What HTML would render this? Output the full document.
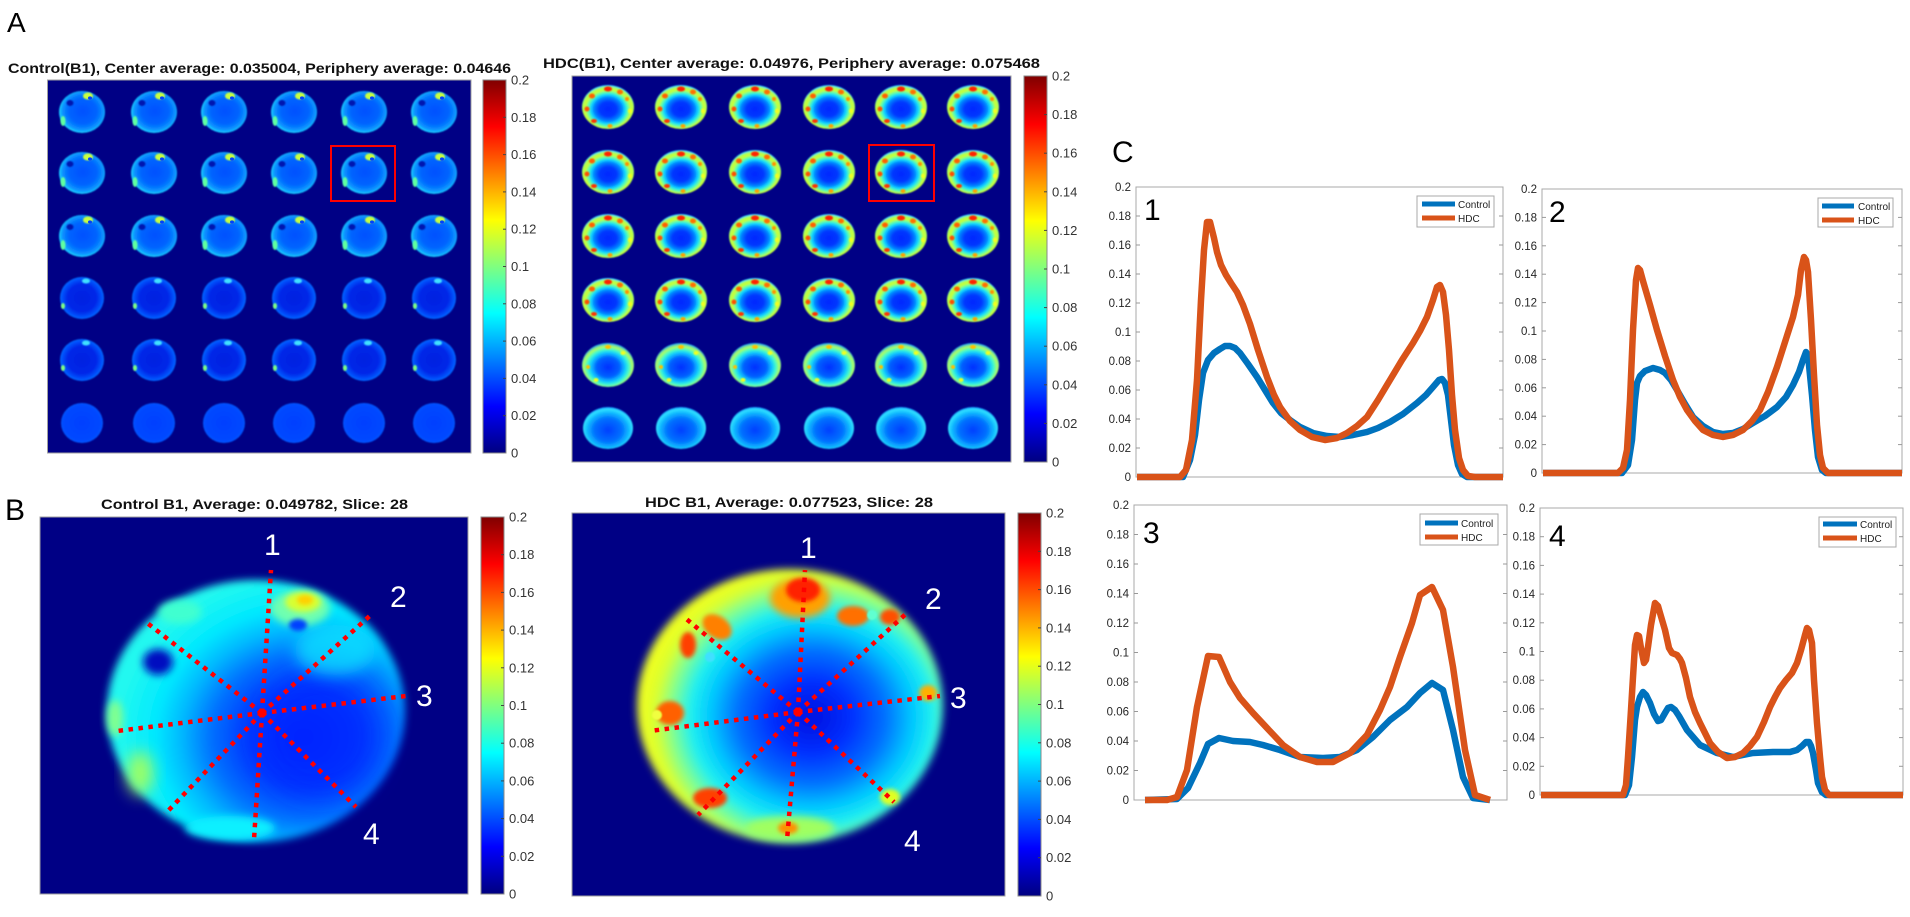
<!DOCTYPE html>
<html><head><meta charset="utf-8"><style>
html,body{margin:0;padding:0;background:#fff;}
svg{display:block;}
text{font-family:"Liberation Sans",Arial,sans-serif;}
</style></head><body>
<svg width="1910" height="917" viewBox="0 0 1910 917" xmlns="http://www.w3.org/2000/svg">
<defs>
<filter id="b1" x="-50%" y="-50%" width="200%" height="200%"><feGaussianBlur stdDeviation="0.8"/></filter>
<filter id="b2" x="-50%" y="-50%" width="200%" height="200%"><feGaussianBlur stdDeviation="2"/></filter>
<filter id="b3" x="-50%" y="-50%" width="200%" height="200%"><feGaussianBlur stdDeviation="3"/></filter>
<filter id="b4" x="-50%" y="-50%" width="200%" height="200%"><feGaussianBlur stdDeviation="4"/></filter>
<filter id="b8" x="-50%" y="-50%" width="200%" height="200%"><feGaussianBlur stdDeviation="8"/></filter>
<filter id="b15" x="-50%" y="-50%" width="200%" height="200%"><feGaussianBlur stdDeviation="15"/></filter>
<linearGradient id="jet" x1="0" y1="1" x2="0" y2="0">
<stop offset="0" stop-color="#000080"/><stop offset="0.125" stop-color="#0000ff"/><stop offset="0.375" stop-color="#00ffff"/><stop offset="0.625" stop-color="#ffff00"/><stop offset="0.875" stop-color="#ff0000"/><stop offset="1" stop-color="#800000"/>
</linearGradient>
<radialGradient id="gCtl" cx="0.52" cy="0.48" r="0.55">
<stop offset="0" stop-color="#0050ff"/><stop offset="0.55" stop-color="#0064ff"/><stop offset="0.8" stop-color="#0a90ff"/><stop offset="0.93" stop-color="#18ccff"/><stop offset="1" stop-color="#1090ff"/>
</radialGradient>
<radialGradient id="gCtl2" cx="0.5" cy="0.5" r="0.55">
<stop offset="0" stop-color="#0020e0"/><stop offset="0.6" stop-color="#0028e8"/><stop offset="0.85" stop-color="#0058ff"/><stop offset="1" stop-color="#1090ff"/>
</radialGradient>
<radialGradient id="gCtl3" cx="0.5" cy="0.5" r="0.55">
<stop offset="0" stop-color="#0040ff"/><stop offset="0.8" stop-color="#0048ff"/><stop offset="1" stop-color="#1068ff"/>
</radialGradient>
<radialGradient id="gH1" cx="0.5" cy="0.55" r="0.55">
<stop offset="0" stop-color="#0028ff"/><stop offset="0.3" stop-color="#0038ff"/><stop offset="0.48" stop-color="#0080ff"/><stop offset="0.6" stop-color="#10d8ff"/><stop offset="0.7" stop-color="#60ffa8"/><stop offset="0.8" stop-color="#c8ff38"/><stop offset="0.9" stop-color="#b0ff50"/><stop offset="0.97" stop-color="#40e0ff"/><stop offset="1" stop-color="#1080ff"/>
</radialGradient>
<radialGradient id="gH2" cx="0.5" cy="0.55" r="0.55">
<stop offset="0" stop-color="#0030ff"/><stop offset="0.4" stop-color="#0060ff"/><stop offset="0.6" stop-color="#10c8ff"/><stop offset="0.72" stop-color="#40f8d0"/><stop offset="0.86" stop-color="#b0ff60"/><stop offset="1" stop-color="#10a0ff"/>
</radialGradient>
<radialGradient id="gH3" cx="0.5" cy="0.55" r="0.55">
<stop offset="0" stop-color="#0040ff"/><stop offset="0.5" stop-color="#0070ff"/><stop offset="0.75" stop-color="#10b8ff"/><stop offset="0.9" stop-color="#30e0ff"/><stop offset="1" stop-color="#1090ff"/>
</radialGradient>
<radialGradient id="gBL" cx="0.66" cy="0.6" r="0.62">
<stop offset="0" stop-color="#0020ff"/><stop offset="0.3" stop-color="#0038ff"/><stop offset="0.5" stop-color="#0070ff"/><stop offset="0.66" stop-color="#00b8ff"/><stop offset="0.8" stop-color="#00e8ff"/><stop offset="1" stop-color="#20f8f0"/>
</radialGradient>
<radialGradient id="gBR" cx="0.57" cy="0.54" r="0.6">
<stop offset="0" stop-color="#0010e0"/><stop offset="0.22" stop-color="#0030ff"/><stop offset="0.4" stop-color="#0070ff"/><stop offset="0.55" stop-color="#00c8ff"/><stop offset="0.66" stop-color="#20f0f0"/><stop offset="0.76" stop-color="#80ff90"/><stop offset="0.85" stop-color="#d8ff30"/><stop offset="0.93" stop-color="#f0ff20"/><stop offset="1" stop-color="#e0ff30"/>
</radialGradient>
<g id="c1">
<ellipse rx="23" ry="21" fill="url(#gCtl)" filter="url(#b1)"/>
<ellipse cx="6" cy="-16" rx="5" ry="3.5" fill="#c8ff40" filter="url(#b1)"/>
<ellipse cx="8" cy="-14" rx="2" ry="1.6" fill="#0040ff"/>
<ellipse cx="-12" cy="-9" rx="3.5" ry="3" fill="#0018b0" filter="url(#b1)"/>
<ellipse cx="-19" cy="9" rx="2.5" ry="5" fill="#60ffa0" filter="url(#b1)"/>
</g>
<g id="c2">
<ellipse rx="22" ry="21" fill="url(#gCtl2)" filter="url(#b1)"/>
<ellipse cx="4" cy="-17" rx="4" ry="2.5" fill="#40e0ff" filter="url(#b1)"/>
<ellipse cx="-19" cy="8" rx="2" ry="3" fill="#80ff80" filter="url(#b1)"/>
</g>
<g id="c3">
<ellipse rx="21" ry="20" fill="url(#gCtl3)" filter="url(#b1)"/>
</g>
<g id="h1">
<ellipse rx="26" ry="22" fill="url(#gH1)" filter="url(#b1)"/>
<ellipse cx="0" cy="-18" rx="4" ry="2.5" fill="#ff2000" filter="url(#b1)"/>
<ellipse cx="12" cy="-15" rx="3" ry="2.5" fill="#ff7000" filter="url(#b1)"/>
<ellipse cx="19" cy="-8" rx="2" ry="2" fill="#ff9000" filter="url(#b1)"/>
<ellipse cx="-16" cy="-11" rx="3" ry="2.5" fill="#ff6000" filter="url(#b1)"/>
<ellipse cx="-21" cy="2" rx="2.5" ry="2.5" fill="#ff5000" filter="url(#b1)"/>
<ellipse cx="-14" cy="14" rx="3" ry="2" fill="#ff3000" filter="url(#b1)"/>
<ellipse cx="2" cy="19" rx="2.5" ry="2" fill="#ffa000" filter="url(#b1)"/>
<ellipse cx="22" cy="4" rx="2" ry="2.5" fill="#f0ff20" filter="url(#b1)"/>
</g>
<g id="h2">
<ellipse rx="26" ry="22" fill="url(#gH2)" filter="url(#b1)"/>
<ellipse cx="0" cy="-18" rx="3" ry="2" fill="#ffc000" filter="url(#b1)"/>
<ellipse cx="-20" cy="2" rx="2" ry="2" fill="#ffc000" filter="url(#b1)"/>
<ellipse cx="15" cy="-12" rx="2.5" ry="2" fill="#f0ff20" filter="url(#b1)"/>
<ellipse cx="-12" cy="15" rx="2.5" ry="2" fill="#f0ff20" filter="url(#b1)"/>
</g>
<g id="h3">
<ellipse rx="25" ry="21" fill="url(#gH3)" filter="url(#b1)"/>
</g>
</defs>
<rect width="1910" height="917" fill="#fff"/>

<!-- Panel labels -->
<text x="7" y="32" font-size="28" fill="#000">A</text>
<text x="5" y="520" font-size="30" fill="#000">B</text>
<text x="1112" y="162" font-size="30" fill="#000">C</text>

<!-- A left -->
<text x="8" y="73" font-size="14" font-weight="bold" fill="#111" textLength="503" lengthAdjust="spacingAndGlyphs">Control(B1), Center average: 0.035004, Periphery average: 0.04646</text>
<rect x="47.5" y="80" width="423.5" height="373" fill="#000085" stroke="#a0a0a0" stroke-width="1"/>
<g>
<use href="#c1" x="82" y="112"/><use href="#c1" x="154" y="112"/><use href="#c1" x="224" y="112"/><use href="#c1" x="294" y="112"/><use href="#c1" x="364" y="112"/><use href="#c1" x="434" y="112"/>
<use href="#c1" x="82" y="173"/><use href="#c1" x="154" y="173"/><use href="#c1" x="224" y="173"/><use href="#c1" x="294" y="173"/><use href="#c1" x="364" y="173"/><use href="#c1" x="434" y="173"/>
<use href="#c1" x="82" y="236"/><use href="#c1" x="154" y="236"/><use href="#c1" x="224" y="236"/><use href="#c1" x="294" y="236"/><use href="#c1" x="364" y="236"/><use href="#c1" x="434" y="236"/>
<use href="#c2" x="82" y="298"/><use href="#c2" x="154" y="298"/><use href="#c2" x="224" y="298"/><use href="#c2" x="294" y="298"/><use href="#c2" x="364" y="298"/><use href="#c2" x="434" y="298"/>
<use href="#c2" x="82" y="360"/><use href="#c2" x="154" y="360"/><use href="#c2" x="224" y="360"/><use href="#c2" x="294" y="360"/><use href="#c2" x="364" y="360"/><use href="#c2" x="434" y="360"/>
<use href="#c3" x="82" y="423"/><use href="#c3" x="154" y="423"/><use href="#c3" x="224" y="423"/><use href="#c3" x="294" y="423"/><use href="#c3" x="364" y="423"/><use href="#c3" x="434" y="423"/>
</g>
<rect x="331" y="146" width="64" height="55" fill="none" stroke="#ff0000" stroke-width="2"/>
<rect x="483" y="80" width="23" height="373" fill="url(#jet)" stroke="#888" stroke-width="1"/>
<g stroke="#444" stroke-width="1">
<line x1="503" y1="117.3" x2="506" y2="117.3"/><line x1="503" y1="154.6" x2="506" y2="154.6"/><line x1="503" y1="191.9" x2="506" y2="191.9"/><line x1="503" y1="229.2" x2="506" y2="229.2"/><line x1="503" y1="266.5" x2="506" y2="266.5"/><line x1="503" y1="303.8" x2="506" y2="303.8"/><line x1="503" y1="341.1" x2="506" y2="341.1"/><line x1="503" y1="378.4" x2="506" y2="378.4"/><line x1="503" y1="415.7" x2="506" y2="415.7"/>
</g>
<g font-size="13" fill="#333">
<text x="511" y="84.5">0.2</text><text x="511" y="121.8">0.18</text><text x="511" y="159.1">0.16</text><text x="511" y="196.4">0.14</text><text x="511" y="233.7">0.12</text><text x="511" y="271">0.1</text><text x="511" y="308.3">0.08</text><text x="511" y="345.6">0.06</text><text x="511" y="382.9">0.04</text><text x="511" y="420.2">0.02</text><text x="511" y="457.5">0</text>
</g>

<!-- A right -->
<text x="543" y="68" font-size="14" font-weight="bold" fill="#111" textLength="497" lengthAdjust="spacingAndGlyphs">HDC(B1), Center average: 0.04976, Periphery average: 0.075468</text>
<rect x="572" y="76" width="439" height="386" fill="#000085" stroke="#a0a0a0" stroke-width="1"/>
<g>
<use href="#h1" x="608" y="107"/><use href="#h1" x="681" y="107"/><use href="#h1" x="755" y="107"/><use href="#h1" x="829" y="107"/><use href="#h1" x="901" y="107"/><use href="#h1" x="973" y="107"/>
<use href="#h1" x="608" y="172"/><use href="#h1" x="681" y="172"/><use href="#h1" x="755" y="172"/><use href="#h1" x="829" y="172"/><use href="#h1" x="901" y="172"/><use href="#h1" x="973" y="172"/>
<use href="#h1" x="608" y="236"/><use href="#h1" x="681" y="236"/><use href="#h1" x="755" y="236"/><use href="#h1" x="829" y="236"/><use href="#h1" x="901" y="236"/><use href="#h1" x="973" y="236"/>
<use href="#h1" x="608" y="300"/><use href="#h1" x="681" y="300"/><use href="#h1" x="755" y="300"/><use href="#h1" x="829" y="300"/><use href="#h1" x="901" y="300"/><use href="#h1" x="973" y="300"/>
<use href="#h2" x="608" y="365"/><use href="#h2" x="681" y="365"/><use href="#h2" x="755" y="365"/><use href="#h2" x="829" y="365"/><use href="#h2" x="901" y="365"/><use href="#h2" x="973" y="365"/>
<use href="#h3" x="608" y="428"/><use href="#h3" x="681" y="428"/><use href="#h3" x="755" y="428"/><use href="#h3" x="829" y="428"/><use href="#h3" x="901" y="428"/><use href="#h3" x="973" y="428"/>
</g>
<rect x="869" y="145" width="65" height="56" fill="none" stroke="#ff0000" stroke-width="2"/>
<rect x="1024" y="76" width="23" height="386" fill="url(#jet)" stroke="#888" stroke-width="1"/>
<g stroke="#444" stroke-width="1">
<line x1="1044" y1="114.6" x2="1047" y2="114.6"/><line x1="1044" y1="153.2" x2="1047" y2="153.2"/><line x1="1044" y1="191.8" x2="1047" y2="191.8"/><line x1="1044" y1="230.4" x2="1047" y2="230.4"/><line x1="1044" y1="269" x2="1047" y2="269"/><line x1="1044" y1="307.6" x2="1047" y2="307.6"/><line x1="1044" y1="346.2" x2="1047" y2="346.2"/><line x1="1044" y1="384.8" x2="1047" y2="384.8"/><line x1="1044" y1="423.4" x2="1047" y2="423.4"/>
</g>
<g font-size="13" fill="#333">
<text x="1052" y="80.5">0.2</text><text x="1052" y="119.1">0.18</text><text x="1052" y="157.7">0.16</text><text x="1052" y="196.3">0.14</text><text x="1052" y="234.9">0.12</text><text x="1052" y="273.5">0.1</text><text x="1052" y="312.1">0.08</text><text x="1052" y="350.7">0.06</text><text x="1052" y="389.3">0.04</text><text x="1052" y="427.9">0.02</text><text x="1052" y="466.5">0</text>
</g>

<!-- B left -->
<text x="101" y="509" font-size="14" font-weight="bold" fill="#111" textLength="307" lengthAdjust="spacingAndGlyphs">Control B1, Average: 0.049782, Slice: 28</text>
<rect x="40" y="517" width="428" height="377" fill="#000085" stroke="#a0a0a0" stroke-width="1"/>
<g>
<ellipse cx="256" cy="711" rx="149" ry="131" fill="url(#gBL)" filter="url(#b4)"/>
<ellipse cx="320" cy="735" rx="60" ry="60" fill="#0028ff" opacity="0.55" filter="url(#b15)"/>
<ellipse cx="230" cy="828" rx="45" ry="12" fill="#10f0ff" filter="url(#b4)"/>
<ellipse cx="335" cy="650" rx="40" ry="25" fill="#10e0ff" opacity="0.8" filter="url(#b8)"/>
<ellipse cx="300" cy="608" rx="30" ry="18" fill="#70ffb0" filter="url(#b4)"/>
<ellipse cx="303" cy="602" rx="18" ry="10" fill="#d8ff30" filter="url(#b3)"/>
<ellipse cx="305" cy="600" rx="8" ry="5" fill="#ffd000" filter="url(#b2)"/>
<ellipse cx="298" cy="625" rx="9" ry="6" fill="#0040ff" filter="url(#b2)"/>
<ellipse cx="158" cy="662" rx="15" ry="13" fill="#0010c0" filter="url(#b4)"/>
<ellipse cx="140" cy="773" rx="13" ry="22" fill="#a0ff60" filter="url(#b8)"/>
<ellipse cx="115" cy="718" rx="8" ry="18" fill="#80ff90" filter="url(#b4)"/>
<ellipse cx="180" cy="612" rx="22" ry="12" fill="#40ffd0" filter="url(#b4)"/>
</g>
<g stroke="#ff0000" stroke-width="4.5" stroke-dasharray="4.5 5.5" fill="none">
<line x1="262" y1="713" x2="271" y2="570"/><line x1="262" y1="713" x2="254" y2="840"/>
<line x1="262" y1="713" x2="373" y2="613"/><line x1="262" y1="713" x2="165" y2="814"/>
<line x1="262" y1="713" x2="406" y2="696"/><line x1="262" y1="713" x2="117" y2="731"/>
<line x1="262" y1="713" x2="356" y2="807"/><line x1="262" y1="713" x2="146" y2="622"/>
</g>
<g font-size="30" fill="#fff">
<text x="264" y="555">1</text><text x="390" y="607">2</text><text x="416" y="706">3</text><text x="363" y="844">4</text>
</g>
<rect x="481" y="517" width="23" height="377" fill="url(#jet)" stroke="#888" stroke-width="1"/>
<g stroke="#444" stroke-width="1">
<line x1="501" y1="554.7" x2="504" y2="554.7"/><line x1="501" y1="592.4" x2="504" y2="592.4"/><line x1="501" y1="630.1" x2="504" y2="630.1"/><line x1="501" y1="667.8" x2="504" y2="667.8"/><line x1="501" y1="705.5" x2="504" y2="705.5"/><line x1="501" y1="743.2" x2="504" y2="743.2"/><line x1="501" y1="780.9" x2="504" y2="780.9"/><line x1="501" y1="818.6" x2="504" y2="818.6"/><line x1="501" y1="856.3" x2="504" y2="856.3"/>
</g>
<g font-size="13" fill="#333">
<text x="509" y="521.5">0.2</text><text x="509" y="559.2">0.18</text><text x="509" y="596.9">0.16</text><text x="509" y="634.6">0.14</text><text x="509" y="672.3">0.12</text><text x="509" y="710">0.1</text><text x="509" y="747.7">0.08</text><text x="509" y="785.4">0.06</text><text x="509" y="823.1">0.04</text><text x="509" y="860.8">0.02</text><text x="509" y="898.5">0</text>
</g>

<!-- B right -->
<text x="645" y="507" font-size="14" font-weight="bold" fill="#111" textLength="288" lengthAdjust="spacingAndGlyphs">HDC B1, Average: 0.077523, Slice: 28</text>
<rect x="572" y="513" width="433" height="383" fill="#000085" stroke="#a0a0a0" stroke-width="1"/>
<g>
<ellipse cx="790" cy="706" rx="153" ry="137" fill="url(#gBR)" filter="url(#b4)"/>
<ellipse cx="790" cy="828" rx="45" ry="12" fill="#a0ff60" filter="url(#b4)"/>
<ellipse cx="800" cy="598" rx="30" ry="20" fill="#ffa000" filter="url(#b4)"/>
<ellipse cx="803" cy="590" rx="17" ry="12" fill="#ff2000" filter="url(#b2)"/>
<ellipse cx="853" cy="616" rx="16" ry="10" fill="#ff7000" filter="url(#b2)"/>
<ellipse cx="890" cy="617" rx="10" ry="8" fill="#ff5000" filter="url(#b2)"/>
<ellipse cx="872" cy="615" rx="5" ry="5" fill="#60ffd0" filter="url(#b1)"/>
<ellipse cx="717" cy="627" rx="16" ry="11" fill="#ff8000" filter="url(#b2)" transform="rotate(35 717 627)"/>
<ellipse cx="688" cy="645" rx="8" ry="13" fill="#ff4000" filter="url(#b2)"/>
<ellipse cx="710" cy="657" rx="5" ry="5" fill="#40e0ff" filter="url(#b1)"/>
<ellipse cx="670" cy="713" rx="14" ry="12" fill="#ff6000" filter="url(#b2)"/>
<ellipse cx="657" cy="715" rx="5" ry="5" fill="#f0ff40" filter="url(#b1)"/>
<ellipse cx="710" cy="798" rx="17" ry="10" fill="#ff4000" filter="url(#b2)"/>
<ellipse cx="788" cy="828" rx="10" ry="6" fill="#ff9000" filter="url(#b2)"/>
<ellipse cx="928" cy="693" rx="9" ry="8" fill="#ffb000" filter="url(#b2)"/>
<ellipse cx="890" cy="797" rx="10" ry="8" fill="#e0ff20" filter="url(#b2)"/>
</g>
<g stroke="#ff0000" stroke-width="4.5" stroke-dasharray="4.5 5.5" fill="none">
<line x1="798" y1="712" x2="805" y2="570"/><line x1="798" y1="712" x2="787" y2="840"/>
<line x1="798" y1="712" x2="908" y2="612"/><line x1="798" y1="712" x2="698" y2="815"/>
<line x1="798" y1="712" x2="940" y2="696"/><line x1="798" y1="712" x2="650" y2="731"/>
<line x1="798" y1="712" x2="894" y2="802"/><line x1="798" y1="712" x2="684" y2="617"/>
</g>
<g font-size="30" fill="#fff">
<text x="800" y="558">1</text><text x="925" y="609">2</text><text x="950" y="708">3</text><text x="904" y="851">4</text>
</g>
<rect x="1018" y="513" width="23" height="383" fill="url(#jet)" stroke="#888" stroke-width="1"/>
<g stroke="#444" stroke-width="1">
<line x1="1038" y1="551.3" x2="1041" y2="551.3"/><line x1="1038" y1="589.6" x2="1041" y2="589.6"/><line x1="1038" y1="627.9" x2="1041" y2="627.9"/><line x1="1038" y1="666.2" x2="1041" y2="666.2"/><line x1="1038" y1="704.5" x2="1041" y2="704.5"/><line x1="1038" y1="742.8" x2="1041" y2="742.8"/><line x1="1038" y1="781.1" x2="1041" y2="781.1"/><line x1="1038" y1="819.4" x2="1041" y2="819.4"/><line x1="1038" y1="857.7" x2="1041" y2="857.7"/>
</g>
<g font-size="13" fill="#333">
<text x="1046" y="517.5">0.2</text><text x="1046" y="555.8">0.18</text><text x="1046" y="594.1">0.16</text><text x="1046" y="632.4">0.14</text><text x="1046" y="670.7">0.12</text><text x="1046" y="709">0.1</text><text x="1046" y="747.3">0.08</text><text x="1046" y="785.6">0.06</text><text x="1046" y="823.9">0.04</text><text x="1046" y="862.2">0.02</text><text x="1046" y="900.5">0</text>
</g>

<!-- C1 -->
<rect x="1136" y="187" width="367" height="290" fill="#fff" stroke="#a8a8a8" stroke-width="1"/>
<g stroke="#999" stroke-width="1">
<line x1="1136" y1="448" x2="1140" y2="448"/><line x1="1136" y1="419" x2="1140" y2="419"/><line x1="1136" y1="390" x2="1140" y2="390"/><line x1="1136" y1="361" x2="1140" y2="361"/><line x1="1136" y1="332" x2="1140" y2="332"/><line x1="1136" y1="303" x2="1140" y2="303"/><line x1="1136" y1="274" x2="1140" y2="274"/><line x1="1136" y1="245" x2="1140" y2="245"/><line x1="1136" y1="216" x2="1140" y2="216"/>
<line x1="1499" y1="448" x2="1503" y2="448"/><line x1="1499" y1="419" x2="1503" y2="419"/><line x1="1499" y1="390" x2="1503" y2="390"/><line x1="1499" y1="361" x2="1503" y2="361"/><line x1="1499" y1="332" x2="1503" y2="332"/><line x1="1499" y1="303" x2="1503" y2="303"/><line x1="1499" y1="274" x2="1503" y2="274"/><line x1="1499" y1="245" x2="1503" y2="245"/><line x1="1499" y1="216" x2="1503" y2="216"/>
</g>
<g font-size="11.5" fill="#262626" text-anchor="end">
<text x="1131" y="481">0</text><text x="1131" y="452">0.02</text><text x="1131" y="423">0.04</text><text x="1131" y="394">0.06</text><text x="1131" y="365">0.08</text><text x="1131" y="336">0.1</text><text x="1131" y="307">0.12</text><text x="1131" y="278">0.14</text><text x="1131" y="249">0.16</text><text x="1131" y="220">0.18</text><text x="1131" y="191">0.2</text>
</g>
<polyline fill="none" stroke="#0072BD" stroke-width="6.5" stroke-linejoin="round" points="1137,477 1183,477 1190,460 1195,435 1199,400 1203,373 1208,360 1214,353 1220,349 1225,346 1230,346 1235,348 1240,353 1248,364 1257,377 1265,390 1273,403 1281,413 1290,420 1300,427 1313,433 1327,436 1340,437 1353,435 1367,432 1378,428 1390,422 1403,414 1417,403 1426,395 1433,387 1439,380 1442,379 1445,383 1448,395 1451,420 1454,445 1458,465 1462,474 1467,477 1503,477"/>
<polyline fill="none" stroke="#D95319" stroke-width="6.5" stroke-linejoin="round" points="1137,477 1180,477 1186,470 1192,440 1197,380 1201,300 1204,250 1207,222 1210,222 1214,238 1217,252 1221,265 1226,275 1231,283 1237,292 1243,305 1250,324 1258,350 1267,377 1274,395 1280,407 1290,421 1300,430 1312,437 1325,440 1337,438 1347,433 1357,426 1367,417 1378,400 1390,380 1402,360 1413,343 1420,331 1427,317 1433,300 1437,287 1440,285 1443,292 1446,315 1449,350 1452,395 1455,430 1459,458 1463,470 1468,476 1475,477 1503,477"/>
<text x="1144" y="220" font-size="30" fill="#000">1</text>
<rect x="1417" y="196" width="77" height="31" fill="#fff" stroke="#a8a8a8" stroke-width="1"/>
<line x1="1422" y1="204" x2="1455" y2="204" stroke="#0072BD" stroke-width="5"/>
<line x1="1422" y1="218" x2="1455" y2="218" stroke="#D95319" stroke-width="5"/>
<text x="1458" y="208" font-size="10" fill="#222">Control</text>
<text x="1458" y="222" font-size="10" fill="#222">HDC</text>

<!-- C2 -->
<rect x="1542" y="189" width="360" height="284" fill="#fff" stroke="#a8a8a8" stroke-width="1"/>
<g stroke="#999" stroke-width="1">
<line x1="1542" y1="444.6" x2="1546" y2="444.6"/><line x1="1542" y1="416.2" x2="1546" y2="416.2"/><line x1="1542" y1="387.8" x2="1546" y2="387.8"/><line x1="1542" y1="359.4" x2="1546" y2="359.4"/><line x1="1542" y1="331" x2="1546" y2="331"/><line x1="1542" y1="302.6" x2="1546" y2="302.6"/><line x1="1542" y1="274.2" x2="1546" y2="274.2"/><line x1="1542" y1="245.8" x2="1546" y2="245.8"/><line x1="1542" y1="217.4" x2="1546" y2="217.4"/>
<line x1="1898" y1="444.6" x2="1902" y2="444.6"/><line x1="1898" y1="416.2" x2="1902" y2="416.2"/><line x1="1898" y1="387.8" x2="1902" y2="387.8"/><line x1="1898" y1="359.4" x2="1902" y2="359.4"/><line x1="1898" y1="331" x2="1902" y2="331"/><line x1="1898" y1="302.6" x2="1902" y2="302.6"/><line x1="1898" y1="274.2" x2="1902" y2="274.2"/><line x1="1898" y1="245.8" x2="1902" y2="245.8"/><line x1="1898" y1="217.4" x2="1902" y2="217.4"/>
</g>
<g font-size="11.5" fill="#262626" text-anchor="end">
<text x="1537" y="477">0</text><text x="1537" y="448.6">0.02</text><text x="1537" y="420.2">0.04</text><text x="1537" y="391.8">0.06</text><text x="1537" y="363.4">0.08</text><text x="1537" y="335">0.1</text><text x="1537" y="306.6">0.12</text><text x="1537" y="278.2">0.14</text><text x="1537" y="249.8">0.16</text><text x="1537" y="221.4">0.18</text><text x="1537" y="193">0.2</text>
</g>
<polyline fill="none" stroke="#0072BD" stroke-width="6.5" stroke-linejoin="round" points="1543,473 1622,473 1628,465 1632,440 1635,400 1637,383 1640,376 1645,371 1653,368 1660,370 1665,373 1671,380 1677,390 1685,404 1693,417 1703,426 1713,432 1723,434 1733,433 1743,429 1753,423 1765,416 1777,407 1786,397 1793,385 1799,372 1803,360 1806,352 1808,355 1810,375 1812,395 1815,430 1818,457 1822,470 1826,473 1902,473"/>
<polyline fill="none" stroke="#D95319" stroke-width="6.5" stroke-linejoin="round" points="1543,473 1618,473 1623,468 1627,450 1630,400 1633,330 1636,280 1638,268 1640,270 1643,281 1650,305 1657,330 1665,356 1673,380 1680,397 1687,410 1695,421 1703,430 1713,435 1723,437 1733,435 1743,430 1752,421 1760,410 1768,392 1777,367 1785,342 1793,317 1798,295 1801,270 1804,257 1806,260 1808,272 1811,320 1814,375 1817,425 1820,455 1823,468 1828,473 1902,473"/>
<text x="1549" y="222" font-size="30" fill="#000">2</text>
<rect x="1818" y="198" width="75" height="29" fill="#fff" stroke="#a8a8a8" stroke-width="1"/>
<line x1="1822" y1="206" x2="1854" y2="206" stroke="#0072BD" stroke-width="5"/>
<line x1="1822" y1="220" x2="1854" y2="220" stroke="#D95319" stroke-width="5"/>
<text x="1858" y="210" font-size="10" fill="#222">Control</text>
<text x="1858" y="224" font-size="10" fill="#222">HDC</text>

<!-- C3 -->
<rect x="1134" y="505" width="373" height="295" fill="#fff" stroke="#a8a8a8" stroke-width="1"/>
<g stroke="#999" stroke-width="1">
<line x1="1134" y1="770.5" x2="1138" y2="770.5"/><line x1="1134" y1="741" x2="1138" y2="741"/><line x1="1134" y1="711.5" x2="1138" y2="711.5"/><line x1="1134" y1="682" x2="1138" y2="682"/><line x1="1134" y1="652.5" x2="1138" y2="652.5"/><line x1="1134" y1="623" x2="1138" y2="623"/><line x1="1134" y1="593.5" x2="1138" y2="593.5"/><line x1="1134" y1="564" x2="1138" y2="564"/><line x1="1134" y1="534.5" x2="1138" y2="534.5"/>
<line x1="1503" y1="770.5" x2="1507" y2="770.5"/><line x1="1503" y1="741" x2="1507" y2="741"/><line x1="1503" y1="711.5" x2="1507" y2="711.5"/><line x1="1503" y1="682" x2="1507" y2="682"/><line x1="1503" y1="652.5" x2="1507" y2="652.5"/><line x1="1503" y1="623" x2="1507" y2="623"/><line x1="1503" y1="593.5" x2="1507" y2="593.5"/><line x1="1503" y1="564" x2="1507" y2="564"/><line x1="1503" y1="534.5" x2="1507" y2="534.5"/>
</g>
<g font-size="11.5" fill="#262626" text-anchor="end">
<text x="1129" y="804">0</text><text x="1129" y="774.5">0.02</text><text x="1129" y="745">0.04</text><text x="1129" y="715.5">0.06</text><text x="1129" y="686">0.08</text><text x="1129" y="656.5">0.1</text><text x="1129" y="627">0.12</text><text x="1129" y="597.5">0.14</text><text x="1129" y="568">0.16</text><text x="1129" y="538.5">0.18</text><text x="1129" y="509">0.2</text>
</g>
<polyline fill="none" stroke="#0072BD" stroke-width="6.5" stroke-linejoin="round" points="1145,800 1177,799 1188,788 1200,763 1208,744 1219,738 1233,741 1250,742 1263,745 1280,750 1300,757 1323,758 1340,757 1357,750 1373,737 1390,720 1407,707 1420,693 1432,683 1443,690 1453,730 1463,777 1473,798 1490,800"/>
<polyline fill="none" stroke="#D95319" stroke-width="6.5" stroke-linejoin="round" points="1145,800 1167,800 1177,797 1187,770 1197,707 1208,656 1219,657 1230,682 1240,698 1253,713 1267,728 1283,745 1300,757 1317,762 1333,762 1350,753 1367,735 1380,710 1390,687 1400,657 1412,623 1420,595 1432,587 1443,610 1453,667 1465,750 1475,795 1490,800"/>
<text x="1143" y="543" font-size="30" fill="#000">3</text>
<rect x="1420" y="514" width="78" height="31" fill="#fff" stroke="#a8a8a8" stroke-width="1"/>
<line x1="1425" y1="523" x2="1458" y2="523" stroke="#0072BD" stroke-width="5"/>
<line x1="1425" y1="537" x2="1458" y2="537" stroke="#D95319" stroke-width="5"/>
<text x="1461" y="527" font-size="10" fill="#222">Control</text>
<text x="1461" y="541" font-size="10" fill="#222">HDC</text>

<!-- C4 -->
<rect x="1540" y="508" width="363" height="287" fill="#fff" stroke="#a8a8a8" stroke-width="1"/>
<g stroke="#999" stroke-width="1">
<line x1="1540" y1="766.3" x2="1544" y2="766.3"/><line x1="1540" y1="737.6" x2="1544" y2="737.6"/><line x1="1540" y1="708.9" x2="1544" y2="708.9"/><line x1="1540" y1="680.2" x2="1544" y2="680.2"/><line x1="1540" y1="651.5" x2="1544" y2="651.5"/><line x1="1540" y1="622.8" x2="1544" y2="622.8"/><line x1="1540" y1="594.1" x2="1544" y2="594.1"/><line x1="1540" y1="565.4" x2="1544" y2="565.4"/><line x1="1540" y1="536.7" x2="1544" y2="536.7"/>
<line x1="1899" y1="766.3" x2="1903" y2="766.3"/><line x1="1899" y1="737.6" x2="1903" y2="737.6"/><line x1="1899" y1="708.9" x2="1903" y2="708.9"/><line x1="1899" y1="680.2" x2="1903" y2="680.2"/><line x1="1899" y1="651.5" x2="1903" y2="651.5"/><line x1="1899" y1="622.8" x2="1903" y2="622.8"/><line x1="1899" y1="594.1" x2="1903" y2="594.1"/><line x1="1899" y1="565.4" x2="1903" y2="565.4"/><line x1="1899" y1="536.7" x2="1903" y2="536.7"/>
</g>
<g font-size="11.5" fill="#262626" text-anchor="end">
<text x="1535" y="799">0</text><text x="1535" y="770.3">0.02</text><text x="1535" y="741.6">0.04</text><text x="1535" y="712.9">0.06</text><text x="1535" y="684.2">0.08</text><text x="1535" y="655.5">0.1</text><text x="1535" y="626.8">0.12</text><text x="1535" y="598.1">0.14</text><text x="1535" y="569.4">0.16</text><text x="1535" y="540.7">0.18</text><text x="1535" y="512">0.2</text>
</g>
<polyline fill="none" stroke="#0072BD" stroke-width="6.5" stroke-linejoin="round" points="1541,795 1625,795 1629,785 1632,757 1635,720 1637,707 1640,697 1643,692 1646,695 1650,703 1654,714 1658,721 1661,720 1665,713 1668,708 1671,707 1675,710 1679,716 1687,730 1700,745 1717,753 1733,757 1753,753 1773,752 1790,752 1797,750 1802,746 1806,742 1809,742 1811,746 1813,753 1816,770 1818,783 1822,792 1826,795 1903,795"/>
<polyline fill="none" stroke="#D95319" stroke-width="6.5" stroke-linejoin="round" points="1541,795 1623,795 1626,785 1628,757 1631,710 1633,677 1635,645 1637,635 1639,636 1641,648 1644,663 1646,660 1648,647 1651,625 1655,603 1658,606 1660,613 1665,630 1669,648 1672,653 1677,655 1680,659 1682,663 1686,678 1690,697 1695,712 1700,723 1710,743 1718,752 1727,758 1735,757 1743,753 1750,746 1757,737 1764,722 1770,707 1775,697 1780,688 1786,680 1792,673 1797,663 1801,650 1805,635 1807,628 1809,630 1812,643 1814,680 1817,723 1820,757 1822,777 1825,790 1829,795 1903,795"/>
<text x="1549" y="546" font-size="30" fill="#000">4</text>
<rect x="1819" y="517" width="77" height="30" fill="#fff" stroke="#a8a8a8" stroke-width="1"/>
<line x1="1823" y1="524" x2="1857" y2="524" stroke="#0072BD" stroke-width="5"/>
<line x1="1823" y1="538" x2="1857" y2="538" stroke="#D95319" stroke-width="5"/>
<text x="1860" y="528" font-size="10" fill="#222">Control</text>
<text x="1860" y="542" font-size="10" fill="#222">HDC</text>
</svg>
</body></html>
